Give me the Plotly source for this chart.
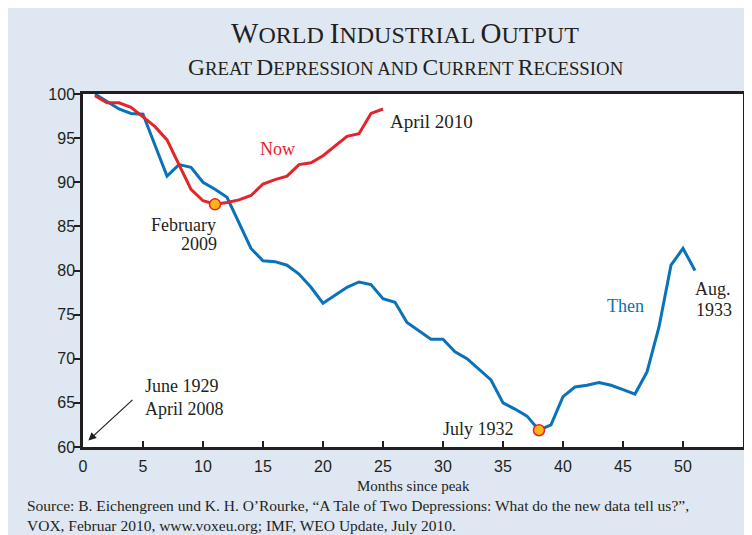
import plotly.graph_objects as go

# ---- data ----
months_then = list(range(1, 52))
then_vals = [100, 99.1, 98.3, 97.8, 97.7, 94.2, 90.7, 92.0, 91.7, 90.0,
             89.2, 88.3, 85.3, 82.5, 81.1, 81.0, 80.6, 79.6, 78.1, 76.3,
             77.2, 78.1, 78.7, 78.4, 76.8, 76.4, 74.1, 73.2, 72.2, 72.2,
             70.8, 70.0, 68.8, 67.6, 65.0, 64.3, 63.5, 61.9, 62.5, 65.7,
             66.8, 67.0, 67.3, 67.0, 66.5, 66.0, 68.5, 73.6, 80.6, 82.5, 80.0]
months_now = list(range(1, 26))
now_vals = [99.8, 99.0, 99.0, 98.5, 97.4, 96.3, 94.8, 92.0, 89.2, 87.9,
            87.5, 87.7, 88.0, 88.5, 89.8, 90.3, 90.7, 92.0, 92.2, 93.0,
            94.1, 95.2, 95.5, 97.8, 98.3]
trough_now_month = 11
trough_then_month = 38
x_ticks = list(range(0, 55, 5))
y_ticks = list(range(60, 101, 5))

BLUE = "#0A72B8"
RED = "#E3242B"
INK = "#231F20"
BG = "#DFE7F2"
SERIF = "Liberation Serif, Times New Roman, serif"
SANS = "Liberation Sans, Arial, sans-serif"


def small_caps(text, big, small, all_small=()):
    out = []
    for word in text.split(" "):
        if word in all_small:
            out.append(f'<span style="font-size:{small}px">{word}</span>')
        else:
            out.append(f'<span style="font-size:{big}px">{word[0]}</span>'
                       f'<span style="font-size:{small}px">{word[1:]}</span>')
    return f'<span style="font-size:{small}px"> </span>'.join(out)


fig = go.Figure()
fig.add_trace(go.Scatter(x=months_then, y=then_vals, mode="lines",
                         line=dict(color=BLUE, width=3), hoverinfo="skip"))
fig.add_trace(go.Scatter(x=months_now, y=now_vals, mode="lines",
                         line=dict(color=RED, width=3), hoverinfo="skip"))
fig.add_trace(go.Scatter(
    x=[trough_now_month, trough_then_month],
    y=[now_vals[months_now.index(trough_now_month)],
       then_vals[months_then.index(trough_then_month)]],
    mode="markers",
    marker=dict(size=11, color="#FDB515", line=dict(color=RED, width=1.5)),
    hoverinfo="skip"))

def label(text, x, y, xanchor="left", color=INK, size=18):
    fig.add_annotation(x=x, y=y, xref="x", yref="y", text=text,
                       showarrow=False, xanchor=xanchor, yanchor="middle",
                       font=dict(family=SERIF, size=size, color=color))

label("Now", 16.22, 93.76, "center", RED)
label("April 2010", 25.42, 96.86, "left", size=19)
label("February", 11.24, 85.15, "right")
label("2009", 11.31, 82.96, "right")
label("Then", 45.22, 76.0, "center", BLUE)
label("Aug.", 50.83, 77.9, "left")
label("1933", 50.9, 75.5, "left")
label("July 1932", 36.06, 62.02, "right")
label("June 1929", 5.0, 66.93, "left")
label("April 2008", 5.0, 64.29, "left")

fig.add_annotation(x=0.45, y=60.74, ax=4.25, ay=65.5, xref="x", yref="y",
                   axref="x", ayref="y", text="", showarrow=True,
                   arrowhead=2, arrowsize=1.3, arrowwidth=1.2,
                   arrowcolor=INK, standoff=0)

# titles
fig.add_annotation(x=0.488, y=1.1728, xref="paper", yref="paper",
                   text=small_caps("WORLD INDUSTRIAL OUTPUT", 29, 24),
                   showarrow=False, xanchor="center", yanchor="middle",
                   font=dict(family=SERIF, size=24, color=INK))
fig.add_annotation(x=0.4894, y=1.0765, xref="paper", yref="paper",
                   text=small_caps("GREAT DEPRESSION AND CURRENT RECESSION", 23.5, 18.8,
                                   all_small=("AND",)),
                   showarrow=False, xanchor="center", yanchor="middle",
                   font=dict(family=SERIF, size=18.8, color=INK))
fig.add_annotation(x=0.5, y=-0.1105, xref="paper", yref="paper",
                   text="Months since peak", showarrow=False,
                   xanchor="center", yanchor="middle",
                   font=dict(family=SERIF, size=15, color=INK))
fig.add_annotation(x=(25 - 83) / 660, y=(447 - 515.5) / 353, xref="paper", yref="paper",
                   text="Source: B. Eichengreen und K. H. O\u2019Rourke, \u201cA Tale of Two Depressions: What do the new data tell us?\u201d,<br>"
                        "VOX, Februar 2010, www.voxeu.org; IMF, WEO Update, July 2010.",
                   showarrow=False, xanchor="left", yanchor="middle", align="left",
                   font=dict(family=SERIF, size=15.5, color=INK))

fig.update_layout(
    width=752, height=535,
    margin=dict(l=75, r=17, t=86, b=96),
    paper_bgcolor=BG, plot_bgcolor="white",
    showlegend=False,
    xaxis=dict(range=[0, 55], tickvals=x_ticks, ticks="inside", ticklen=6,
               tickwidth=2, tickcolor=INK, showline=True, linewidth=2.5,
               linecolor=INK, mirror=True, showgrid=False, zeroline=False,
               tickfont=dict(family=SANS, size=16, color=INK),
               ticklabelstandoff=3),
    yaxis=dict(range=[60, 100], tickvals=y_ticks, ticks="outside", ticklen=6,
               tickwidth=2, tickcolor=INK, showline=True, linewidth=2.5,
               linecolor=INK, mirror=True, showgrid=False, zeroline=False,
               tickfont=dict(family=SANS, size=16, color=INK),
               ticklabelstandoff=-4),
)

fig.write_html("out.html")
